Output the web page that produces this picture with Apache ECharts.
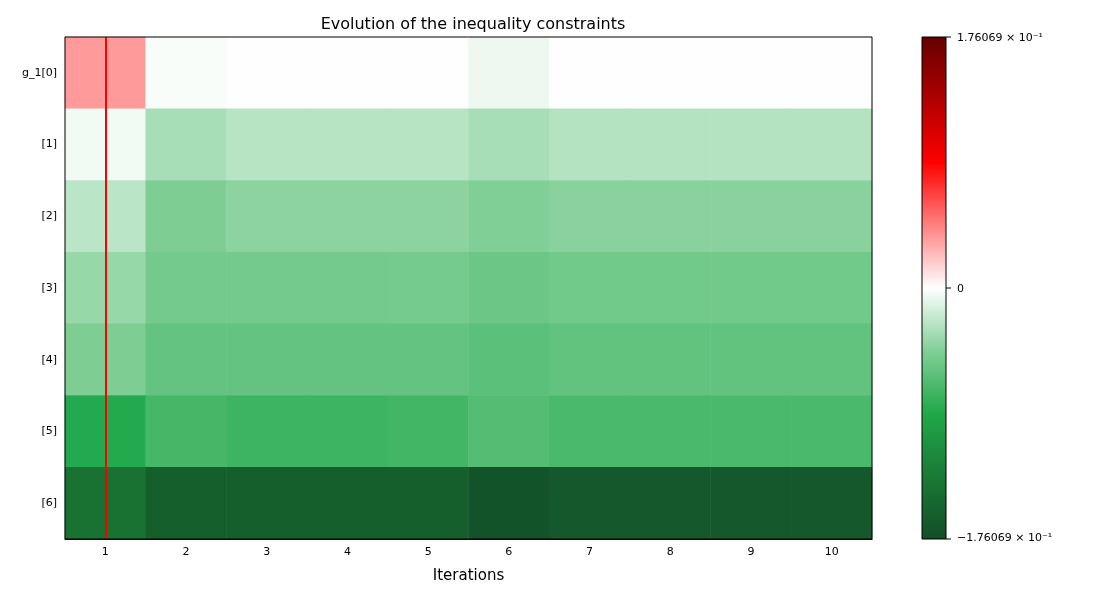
<!DOCTYPE html><html><head><meta charset="utf-8">
<script src="https://cdn.jsdelivr.net/npm/echarts@6/dist/echarts.min.js"></script>
<style>body{margin:0}#c{width:1100px;height:600px}</style></head><body><div id="c"></div>
<script>
const iterations = ['1','2','3','4','5','6','7','8','9','10'];
const rowLabels = ['g_1[0]','[1]','[2]','[3]','[4]','[5]','[6]'];
const g0 = [0.035,-0.002,0.0003,0.0003,0.0003,-0.006,0.0003,0.0003,0.0003,0.0003];
const g1 = [-0.005,-0.030,-0.025,-0.025,-0.025,-0.030,-0.026,-0.026,-0.026,-0.026];
const g2 = [-0.024,-0.045,-0.040,-0.040,-0.040,-0.044,-0.041,-0.041,-0.041,-0.041];
const g3 = [-0.036,-0.050,-0.050,-0.050,-0.049,-0.053,-0.051,-0.051,-0.051,-0.051];
const g4 = [-0.045,-0.057,-0.057,-0.057,-0.057,-0.061,-0.058,-0.058,-0.058,-0.058];
const g5 = [-0.086,-0.071,-0.075,-0.075,-0.072,-0.064,-0.069,-0.069,-0.069,-0.069];
const g6 = [-0.140,-0.158,-0.158,-0.158,-0.158,-0.170,-0.165,-0.165,-0.165,-0.165];
const rows = [g0,g1,g2,g3,g4,g5,g6];
const vmax = 0.176069;
const colors = ['#124d27','#1a7a35','#20a84a','#80cf96','#ffffff','#ff8080','#ff0000','#b00000','#650000'];
const data = [];
rows.forEach((r,j)=>r.forEach((v,i)=>data.push([i,j,v])));
const chart = echarts.init(document.getElementById('c'));
const font = 'DejaVu Sans';
chart.setOption({
  animation:false,
  textStyle:{fontFamily:font},
  title:{text:'Evolution of the inequality constraints',left:468,top:12,textAlign:'center',textStyle:{fontSize:16,fontWeight:'normal',color:'#000',fontFamily:font}},
  grid:{left:65,right:228,top:37,bottom:61,show:true,borderColor:'#000',borderWidth:1,backgroundColor:'transparent',z:10},
  xAxis:{type:'category',data:iterations,name:'Iterations',nameLocation:'middle',nameGap:30,nameTextStyle:{fontSize:15,color:'#000'},
    axisLine:{lineStyle:{color:'#000'}},axisTick:{alignWithLabel:true,lineStyle:{color:'#000'}},axisLabel:{color:'#000',fontSize:11},splitArea:{show:false}},
  yAxis:{type:'category',data:rowLabels,inverse:true,axisLine:{lineStyle:{color:'#000'}},axisTick:{alignWithLabel:true,lineStyle:{color:'#000'}},axisLabel:{color:'#000',fontSize:11}},
  visualMap:{show:false,min:-vmax,max:vmax,calculable:false,inRange:{color:colors},dimension:2},
  series:[{type:'heatmap',data:data,
    markLine:{silent:true,symbol:'none',label:{show:false},lineStyle:{color:'#ff0000',type:'solid',width:2},data:[{xAxis:'1'}]}}],
  graphic:[
    {type:'rect',shape:{x:922,y:37,width:24,height:502},style:{stroke:'#000',lineWidth:1,fill:new echarts.graphic.LinearGradient(0,1,0,0,colors.map((c,i)=>({offset:i/(colors.length-1),color:c})))}},
    {type:'line',shape:{x1:946,y1:37,x2:951,y2:37},style:{stroke:'#000'}},
    {type:'line',shape:{x1:946,y1:288,x2:951,y2:288},style:{stroke:'#000'}},
    {type:'line',shape:{x1:946,y1:539,x2:951,y2:539},style:{stroke:'#000'}},
    {type:'text',x:957,y:38,style:{text:'1.76069 × 10⁻¹',fontSize:11,fill:'#000',verticalAlign:'middle',fontFamily:font}},
    {type:'text',x:957,y:289,style:{text:'0',fontSize:11,fill:'#000',verticalAlign:'middle',fontFamily:font}},
    {type:'text',x:957,y:538,style:{text:'−1.76069 × 10⁻¹',fontSize:11,fill:'#000',verticalAlign:'middle',fontFamily:font}}
  ]
});
</script></body></html>
